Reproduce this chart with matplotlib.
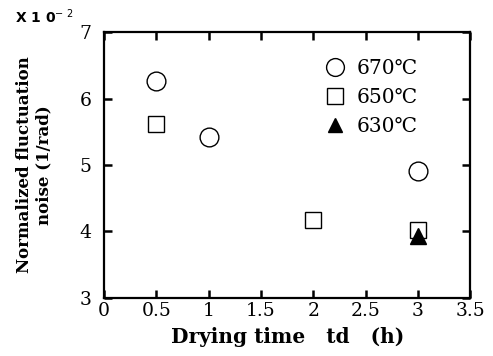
import matplotlib.pyplot as plt

# data (noise in units of 1e-2 1/rad)
t_670 = [0.5, 1.0, 3.0]
n_670 = [6.26, 5.42, 4.91]
t_650 = [0.5, 2.0, 3.0]
n_650 = [5.61, 4.18, 4.02]
t_630 = [3.0]
n_630 = [3.93]
labels = ['670℃', '650℃', '630℃']

serif = ['DejaVu Serif', 'Noto Sans CJK JP']

fig = plt.figure(figsize=(4.93, 3.56), dpi=100)
ax = fig.add_axes([0.211, 0.163, 0.743, 0.747])

ax.plot(t_670, n_670, 'o', ms=13.5, mfc='white', mec='black', mew=1.0, ls='none', label=labels[0])
ax.plot(t_650, n_650, 's', ms=12, mfc='white', mec='black', mew=1.0, ls='none', label=labels[1])
ax.plot(t_630, n_630, '^', ms=11, mfc='black', mec='black', ls='none', label=labels[2])

ax.set_xlim(0, 3.5)
ax.set_ylim(3, 7)
ax.set_xticks([0, 0.5, 1, 1.5, 2, 2.5, 3, 3.5])
ax.set_xticklabels(['0', '0.5', '1', '1.5', '2', '2.5', '3', '3.5'])
ax.set_yticks([3, 4, 5, 6, 7])

ax.tick_params(direction='in', length=6, width=1.8, top=True, right=True, labelsize=13.5, pad=3)
for lab in ax.get_xticklabels() + ax.get_yticklabels():
    lab.set_family(serif)
    lab.set_fontweight('light')
ax.tick_params(axis='y', pad=9)
for sp in ax.spines.values():
    sp.set_linewidth(1.6)

xl = ax.set_xlabel('Drying time   td   (h)', fontsize=14.5, fontweight='bold', family=serif)
xl.set_va('baseline')
ax.xaxis.set_label_coords(0.5, -0.168)

yl = ax.set_ylabel('Normalized fluctuation\nnoise (1/rad)', fontsize=12, fontweight='bold', family=serif,
                   linespacing=1.15)
yl.set_va('center')
ax.yaxis.set_label_coords(-0.19, 0.5)

fig.text(0.03, 0.935, 'X 1 0$^{-\\ 2}$', fontsize=10, fontweight='bold', family='DejaVu Sans')

leg = ax.legend(loc='upper left', bbox_to_anchor=(0.575, 0.93), frameon=False,
                prop={'family': serif, 'size': 14.5},
                handletextpad=0.5, labelspacing=0.5, borderaxespad=0, handlelength=1.2,
                markerscale=0.95)

fig.savefig('out.png', dpi=100)
